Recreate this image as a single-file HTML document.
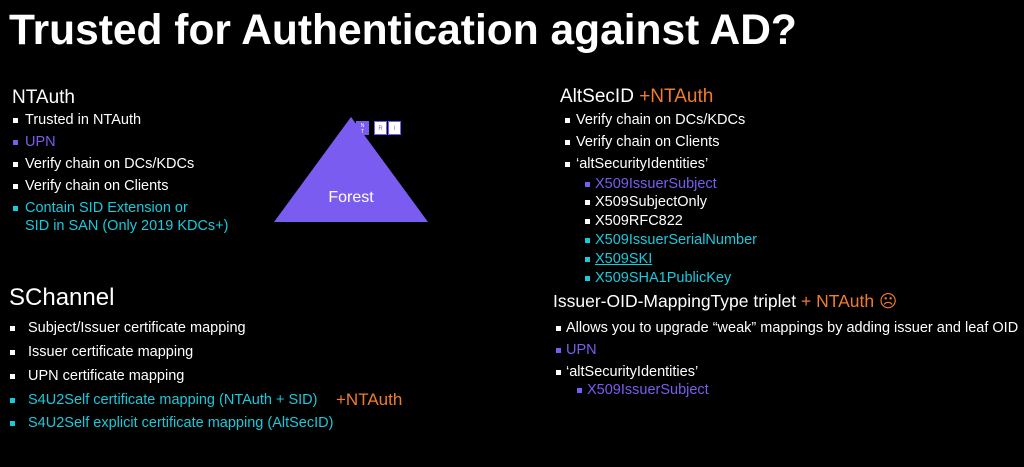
<!DOCTYPE html>
<html><head><style>
body{margin:0;width:1024px;height:467px;background:#000;overflow:hidden;font-family:"Liberation Sans",sans-serif;color:#fff;position:relative}
.t{position:absolute;white-space:nowrap;line-height:1}
.b{position:absolute;width:5px;height:5px;background:#fff}
.p{color:#7b5cf0}.pb{background:#7b5cf0}
.c{color:#19c9dc}.cb{background:#19c9dc}
.o{color:#f07c2c}
.s14{font-size:14.5px}
</style></head><body>
<div class="t" style="left:9px;top:10px;font-size:42.5px;font-weight:bold">Trusted for Authentication against AD?</div>

<div class="t" style="left:12px;top:88px;font-size:19px">NTAuth</div>
<div class="b" style="left:13px;top:118px"></div><div class="t s14" style="left:25px;top:113px">Trusted in NTAuth</div>
<div class="b pb" style="left:13px;top:140px"></div><div class="t s14 p" style="left:25px;top:135px">UPN</div>
<div class="b" style="left:13px;top:162px"></div><div class="t s14" style="left:25px;top:157px">Verify chain on DCs/KDCs</div>
<div class="b" style="left:13px;top:184px"></div><div class="t s14" style="left:25px;top:179px">Verify chain on Clients</div>
<div class="b cb" style="left:13px;top:206px"></div><div class="t s14 c" style="left:25px;top:201px">Contain SID Extension or</div>
<div class="t s14 c" style="left:25px;top:219px">SID in SAN (Only 2019 KDCs+)</div>

<svg style="position:absolute;left:0;top:0" width="1024" height="467">
<polygon points="351,117 274,222 428,222" fill="#7b5cf0"/>
<text x="351" y="202" font-family="Liberation Sans" font-size="16" fill="#fff" text-anchor="middle">Forest</text>
<rect x="356" y="121" width="13" height="14" fill="#7b5cf0"/>
<text x="362.5" y="127" font-family="Liberation Sans" font-size="5" fill="#fff" text-anchor="middle">N</text>
<text x="362.5" y="133" font-family="Liberation Sans" font-size="5" fill="#fff" text-anchor="middle">T</text>
<rect x="374.5" y="121.5" width="12" height="13" fill="#fff" stroke="#7b5cf0"/>
<text x="380.5" y="130" font-family="Liberation Sans" font-size="6" fill="#7b5cf0" text-anchor="middle">R</text>
<rect x="388.5" y="121.5" width="12" height="13" fill="#fff" stroke="#7b5cf0"/>
<text x="394.5" y="130" font-family="Liberation Sans" font-size="6" fill="#7b5cf0" text-anchor="middle">I</text>
</svg>

<div class="t" style="left:9px;top:286px;font-size:24px">SChannel</div>
<div class="b" style="left:10px;top:326px"></div><div class="t s14" style="left:28px;top:321px">Subject/Issuer certificate mapping</div>
<div class="b" style="left:10px;top:350px"></div><div class="t s14" style="left:28px;top:345px">Issuer certificate mapping</div>
<div class="b" style="left:10px;top:374px"></div><div class="t s14" style="left:28px;top:369px">UPN certificate mapping</div>
<div class="b cb" style="left:10px;top:398px"></div><div class="t s14 c" style="left:28px;top:393px">S4U2Self certificate mapping (NTAuth + SID)</div>
<div class="t o" style="left:336px;top:391px;font-size:17px">+NTAuth</div>
<div class="b cb" style="left:10px;top:421px"></div><div class="t s14 c" style="left:28px;top:416px">S4U2Self explicit certificate mapping (AltSecID)</div>

<div class="t" style="left:560px;top:87px;font-size:19px">AltSecID <span class="o">+NTAuth</span></div>
<div class="b" style="left:565px;top:118px"></div><div class="t s14" style="left:576px;top:113px">Verify chain on DCs/KDCs</div>
<div class="b" style="left:565px;top:140px"></div><div class="t s14" style="left:576px;top:135px">Verify chain on Clients</div>
<div class="b" style="left:565px;top:162px"></div><div class="t s14" style="left:576px;top:157px">‘altSecurityIdentities’</div>
<div class="b pb" style="left:585px;top:182px"></div><div class="t s14 p" style="left:595px;top:177px">X509IssuerSubject</div>
<div class="b" style="left:585px;top:200px"></div><div class="t s14" style="left:595px;top:195px">X509SubjectOnly</div>
<div class="b" style="left:585px;top:219px"></div><div class="t s14" style="left:595px;top:214px">X509RFC822</div>
<div class="b cb" style="left:585px;top:238px"></div><div class="t s14 c" style="left:595px;top:233px">X509IssuerSerialNumber</div>
<div class="b cb" style="left:585px;top:257px"></div><div class="t s14 c" style="left:595px;top:252px;text-decoration:underline">X509SKI</div>
<div class="b cb" style="left:585px;top:276px"></div><div class="t s14 c" style="left:595px;top:271px">X509SHA1PublicKey</div>

<div class="t" style="left:553px;top:293px;font-size:17.5px">Issuer-OID-MappingType triplet <span class="o">+ NTAuth ☹</span></div>
<div class="b" style="left:556px;top:326px"></div><div class="t s14" style="left:566px;top:321px">Allows you to upgrade “weak” mappings by adding issuer and leaf OID</div>
<div class="b pb" style="left:556px;top:348px"></div><div class="t s14 p" style="left:566px;top:343px">UPN</div>
<div class="b" style="left:556px;top:370px"></div><div class="t s14" style="left:566px;top:365px">‘altSecurityIdentities’</div>
<div class="b pb" style="left:577px;top:388px"></div><div class="t s14 p" style="left:587px;top:383px">X509IssuerSubject</div>
</body></html>
